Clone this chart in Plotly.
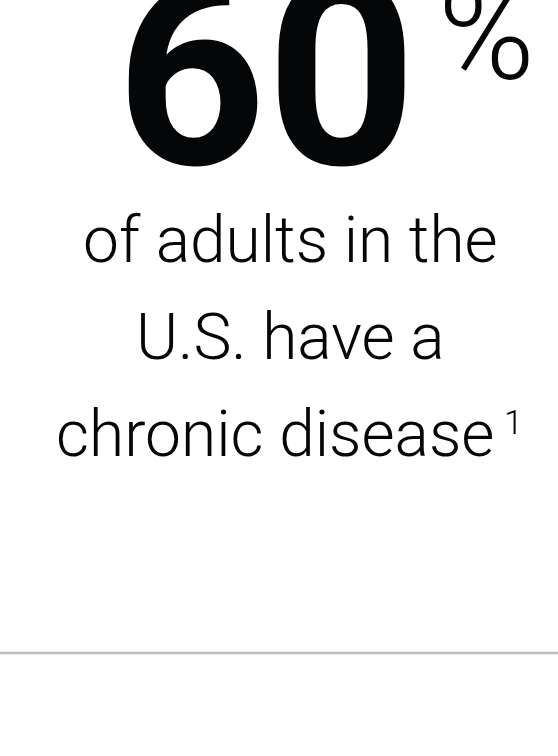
import plotly.graph_objects as go

stat_value = "60"
stat_unit = "%"
caption_lines = ["of adults in the", "U.S. have a", "chronic disease"]
footnote_mark = "1"

W, H = 558, 756
LIGHT = "Roboto Light, Roboto, sans-serif"
BOLD = "Roboto, sans-serif"
INK = "#050608"

fig = go.Figure()
fig.update_layout(
    width=W, height=H, margin=dict(l=0, r=0, t=0, b=0),
    paper_bgcolor="white", plot_bgcolor="white",
    xaxis=dict(range=[0, W], visible=False, fixedrange=True),
    yaxis=dict(range=[H, 0], visible=False, fixedrange=True),
    showlegend=False,
)

CAP = 64
anns = []
anns.append(dict(x=266, y=230, text=f"<b>{stat_value}</b>", showarrow=False,
                 xanchor="center", yanchor="bottom",
                 font=dict(family=BOLD, size=262, color=INK, weight=700)))
anns.append(dict(x=436, y=113, text=stat_unit, showarrow=False,
                 xanchor="left", yanchor="bottom",
                 font=dict(family=LIGHT, size=131, color=INK, weight=300)))
baselines = [263, 360, 457]
centers = [290, 290, 274.5]
for i, line in enumerate(caption_lines):
    anns.append(dict(x=centers[i], y=baselines[i] + 0.26 * CAP, text=line, showarrow=False,
                     xanchor="center", yanchor="bottom",
                     font=dict(family=LIGHT, size=CAP, color=INK, weight=300)))
anns.append(dict(x=502, y=444, text=footnote_mark, showarrow=False,
                 xanchor="left", yanchor="bottom",
                 font=dict(family=LIGHT, size=34, color=INK, weight=300)))
fig.update_layout(annotations=anns)

fig.add_shape(type="line", xref="paper", x0=0, x1=1, y0=653, y1=653,
              line=dict(color="#bbbcbe", width=2.5))

fig.write_html("out.html", config={"displayModeBar": False},
               post_script="document.body.style.margin='0';document.body.style.overflow='hidden';")
